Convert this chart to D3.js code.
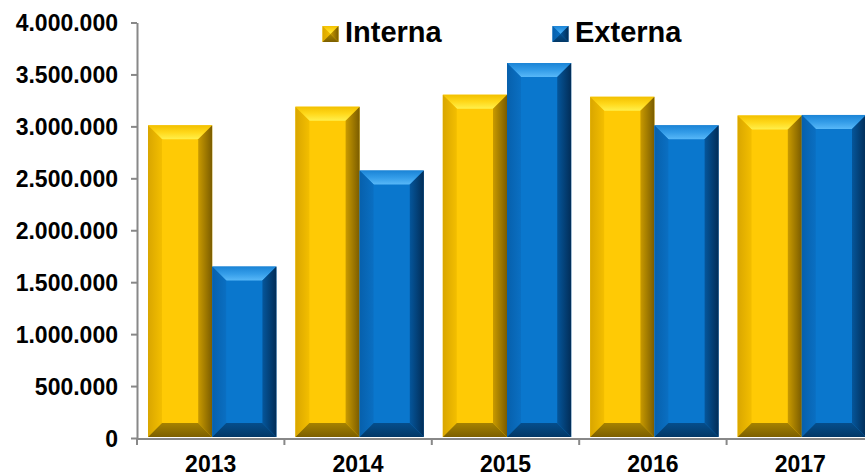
<!DOCTYPE html>
<html>
<head>
<meta charset="utf-8">
<script src="https://cdn.jsdelivr.net/npm/d3@7/dist/d3.min.js"></script>
<style>
  body { margin: 0; background: #fff; overflow: hidden; }
  svg { display: block; font-family: "Liberation Sans", Arial, sans-serif; font-weight: bold; }
</style>
</head>
<body>
<div id="chart"></div>
<script>
const YEARS = ["2013", "2014", "2015", "2016", "2017"];
const SERIES = ["Interna", "Externa"];
const INTERNA = [3010000, 3190000, 3305000, 3285000, 3105000];
const EXTERNA = [1650000, 2575000, 3610000, 3010000, 3110000];
const Y_TICKS = [0, 500000, 1000000, 1500000, 2000000, 2500000, 3000000, 3500000, 4000000];

// bevel colours per series
const PALETTE = {
  Interna: {
    face: "#FFCA05",
    top: ["#F2C000", "#FFD81A", "#FFF04C"],
    left: ["#D9A600", "#F3BE00"],
    right: ["#C99A00", "#7A5C00"],
    bottom: ["#A68200", "#7C5F00"]
  },
  Externa: {
    face: "#0A77CD",
    top: ["#1B84D6", "#339CE8", "#58B8F8"],
    left: ["#0760AC", "#0A6FC2"],
    right: ["#05569B", "#022D57"],
    bottom: ["#054E8C", "#033866"]
  }
};

const W = 865, H = 476;
const fmt = d3.formatLocale({ decimal: ",", thousands: ".", grouping: [3], currency: ["", ""] }).format(",.0f");

const svg = d3.select("#chart").append("svg")
  .attr("width", W).attr("height", H);

const defs = svg.append("defs");
SERIES.forEach(s => {
  const p = PALETTE[s];
  const grad = (id, stops, vertical) => {
    const g = defs.append("linearGradient").attr("id", id)
      .attr("x1", 0).attr("y1", 0)
      .attr("x2", vertical ? 0 : 1).attr("y2", vertical ? 1 : 0);
    stops.forEach((c, i) => g.append("stop")
      .attr("offset", i / (stops.length - 1)).attr("stop-color", c));
  };
  grad(`${s}-top`, p.top, true);
  grad(`${s}-left`, p.left, false);
  grad(`${s}-right`, p.right, false);
  grad(`${s}-bottom`, p.bottom, true);
});

const y = d3.scaleLinear().domain([0, 4000000]).range([438, 22.5]);
const x0 = d3.scaleBand().domain(YEARS).range([137, 874]).padding(0);
const x1 = d3.scaleBand().domain(SERIES).range([11, x0.bandwidth() - 8]).padding(0);

const data = YEARS.map((yr, i) => ({
  year: yr,
  values: [
    { key: "Interna", value: INTERNA[i] },
    { key: "Externa", value: EXTERNA[i] }
  ]
}));

// x axis line + boundary ticks
const xAxis = svg.append("g").attr("transform", "translate(0,439)");
xAxis.append("line")
  .attr("x1", x0.range()[0]).attr("x2", x0.range()[1])
  .attr("stroke", "#888").attr("stroke-width", 2);
xAxis.selectAll(".bt")
  .data(YEARS.concat(["end"]))
  .enter().append("line")
  .attr("x1", d => d === "end" ? x0.range()[1] : x0(d))
  .attr("x2", d => d === "end" ? x0.range()[1] : x0(d))
  .attr("y1", 0).attr("y2", 6)
  .attr("stroke", "#888").attr("stroke-width", 2);
xAxis.selectAll(".lbl")
  .data(YEARS)
  .enter().append("text")
  .attr("x", d => x0(d) + x0.bandwidth() / 2)
  .attr("y", 33)
  .attr("text-anchor", "middle")
  .style("font-size", "23px")
  .attr("fill", "#000")
  .text(d => d);

// y axis
const yAxis = svg.append("g").attr("transform", "translate(137,0)")
  .call(d3.axisLeft(y).tickValues(Y_TICKS).tickFormat(fmt).tickSize(6).tickSizeOuter(0).tickPadding(13));
yAxis.select(".domain").attr("stroke", "#888").attr("stroke-width", 2);
yAxis.selectAll(".tick line").attr("stroke", "#888").attr("stroke-width", 2);
yAxis.selectAll(".tick text").style("font-size", "23px").attr("fill", "#000").attr("dy", "0.36em");

// beveled bar
function bevelBar(g, s, bx, by, bw, bh, size) {
  const b = Math.min(size, bw / 2, bh / 2);
  const x2 = bx + bw, y2 = by + bh;
  const pt = a => a.map(p => p.join(",")).join(" ");
  g.append("rect").attr("x", bx).attr("y", by).attr("width", bw).attr("height", bh)
    .attr("fill", PALETTE[s].face);
  g.append("polygon").attr("points", pt([[bx, by], [x2, by], [x2 - b, by + b], [bx + b, by + b]]))
    .attr("fill", `url(#${s}-top)`);
  g.append("polygon").attr("points", pt([[bx, by], [bx + b, by + b], [bx + b, y2 - b], [bx, y2]]))
    .attr("fill", `url(#${s}-left)`);
  g.append("polygon").attr("points", pt([[x2, by], [x2, y2], [x2 - b, y2 - b], [x2 - b, by + b]]))
    .attr("fill", `url(#${s}-right)`);
  g.append("polygon").attr("points", pt([[bx, y2], [bx + b, y2 - b], [x2 - b, y2 - b], [x2, y2]]))
    .attr("fill", `url(#${s}-bottom)`);
}

const groups = svg.append("g").selectAll("g")
  .data(data).enter().append("g")
  .attr("transform", d => `translate(${x0(d.year)},0)`);

groups.each(function (d) {
  const g = d3.select(this);
  d.values.forEach(v => {
    bevelBar(g, v.key, x1(v.key), y(v.value), x1.bandwidth(), y(0) - 1 - y(v.value), 14);
  });
});

// legend
const legend = svg.append("g");
const LEG_POS = { Interna: 322.5, Externa: 552.5 };
SERIES.forEach(s => {
  const lx = LEG_POS[s];
  bevelBar(legend, s, lx, 26, 16, 16, 8);
  legend.append("text")
    .attr("x", lx + 22.5).attr("y", 41.7)
    .style("font-size", "29px")
    .attr("fill", "#000")
    .text(s);
});
</script>
</body>
</html>
